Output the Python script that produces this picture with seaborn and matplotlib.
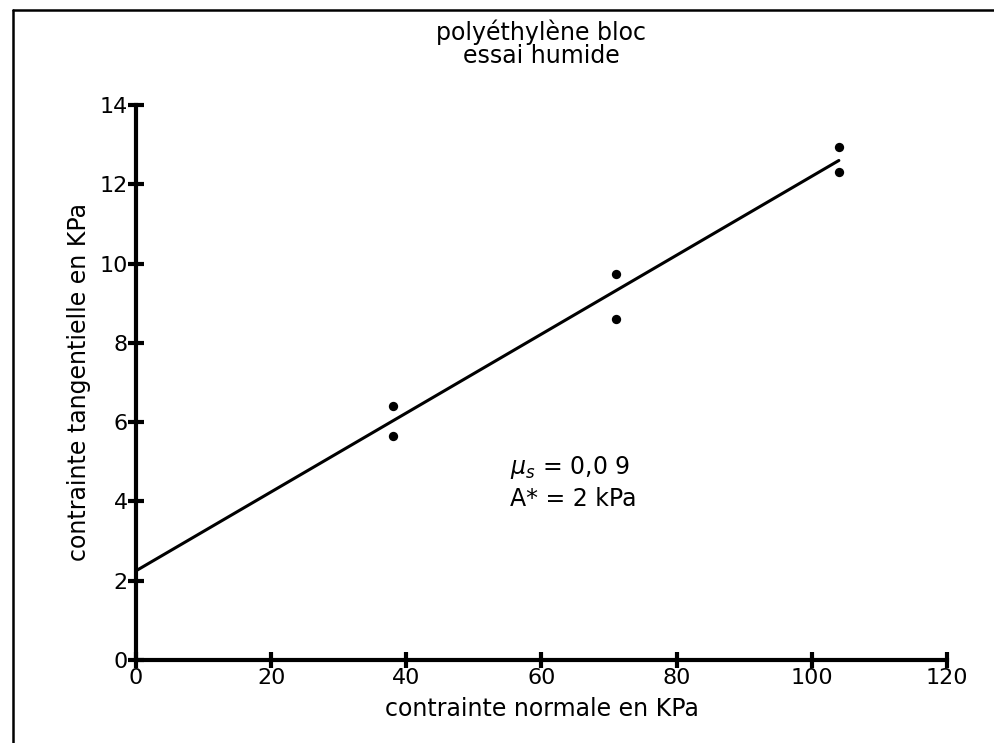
import matplotlib
matplotlib.use("Agg")
import matplotlib.pyplot as plt
import numpy as np
import pandas as pd
import seaborn as sns
from matplotlib.lines import Line2D

normal_kpa = [38, 38, 71, 71, 104, 104]
tangential_kpa = [6.40, 5.64, 9.74, 8.61, 12.93, 12.32]

# Droite de régression tracée sur la figure
fit_x = [0, 104]
fit_y = [2.25, 12.60]

x_ticks = [0, 20, 40, 60, 80, 100, 120]
y_ticks = [0, 2, 4, 6, 8, 10, 12, 14]

sns.set_theme(style="white")
plt.rcParams["font.family"] = ["DejaVu Sans"]
plt.rcParams["mathtext.fontset"] = "dejavusans"
plt.rcParams["text.color"] = "black"
plt.rcParams["axes.labelcolor"] = "black"

df = pd.DataFrame({"normal": normal_kpa, "tangential": tangential_kpa})
fit = pd.DataFrame({"x": fit_x, "y": fit_y})

fig = plt.figure(figsize=(9.94, 7.43), dpi=100)
ax = fig.add_axes([0.1368, 0.1117, 0.8159, 0.747])

sns.lineplot(data=fit, x="x", y="y", ax=ax, color="black", linewidth=2.2)
sns.scatterplot(data=df, x="normal", y="tangential", ax=ax, color="black",
                s=45, edgecolor="black", linewidth=0, zorder=5)

ax.set_xlim(0, 120)
ax.set_ylim(0, 14)
ax.set_xticks(x_ticks)
ax.set_yticks(y_ticks)
ax.set_xticklabels([str(t) for t in x_ticks])
ax.set_yticklabels([str(t) for t in y_ticks])

for side in ["top", "right"]:
    ax.spines[side].set_visible(False)
for side in ["left", "bottom"]:
    ax.spines[side].set_linewidth(3)
    ax.spines[side].set_color("black")

ax.tick_params(axis="both", direction="inout", length=12, width=3,
               colors="black", labelsize=16, pad=0,
               bottom=True, left=True, top=False, right=False)

ax.set_xlabel("contrainte normale en KPa", fontsize=17, labelpad=6)
ax.set_ylabel("contrainte tangentielle en KPa", fontsize=17, labelpad=6)

ax.set_title("polyéthylène bloc\nessai humide", fontsize=17,
             linespacing=0.95, pad=30, color="black")

ax.text(55.4, 4.85, r"$\mu_s$" + " = 0,0 9", fontsize=17, va="center", ha="left")
ax.text(55.4, 4.07, "A* = 2 kPa", fontsize=17, va="center", ha="left")

# cadre extérieur (haut et gauche seulement)
fig.add_artist(Line2D([0.013, 1.0], [0.9865, 0.9865], color="black", linewidth=1.8))
fig.add_artist(Line2D([0.013, 0.013], [0.0, 0.9865], color="black", linewidth=1.8))

fig.savefig("out.png", dpi=100, facecolor="white")
